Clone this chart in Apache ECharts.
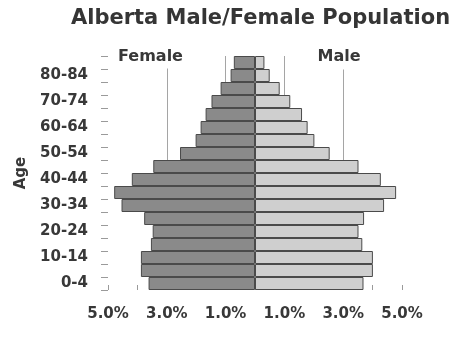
<!DOCTYPE html>
<html>
<head>
<meta charset="utf-8">
<script src="https://cdn.jsdelivr.net/npm/echarts@6/dist/echarts.min.js"></script>
<style>
  html, body { margin: 0; padding: 0; background: #fff; }
  #chart { width: 457px; height: 340px; }
</style>
</head>
<body>
<div id="chart"></div>
<script>
// Age groups, youngest at the bottom of the pyramid
const ageGroups = ['0-4', '5-9', '10-14', '15-19', '20-24', '25-29', '30-34', '35-39', '40-44',
  '45-49', '50-54', '55-59', '60-64', '65-69', '70-74', '75-79', '80-84', '85+'];

// Share of the total population (%) in each age group
const femalePct = [3.62, 3.88, 3.88, 3.54, 3.48, 3.77, 4.54, 4.79, 4.19,
  3.46, 2.55, 2.02, 1.85, 1.68, 1.48, 1.17, 0.83, 0.72];
const malePct = [3.69, 4.01, 4.01, 3.65, 3.52, 3.71, 4.39, 4.80, 4.28,
  3.52, 2.54, 2.02, 1.79, 1.60, 1.20, 0.84, 0.50, 0.32];

// Percentage axis: labelled every 2%, from 5% on the female side to 5% on the male side
const pctMin = -5;
const pctMax = 5;
const pctStep = 2;

const FONT = 'DejaVu Sans';
const TEXT = '#383838';
const TICK = '#9a9a9a';

const chart = echarts.init(document.getElementById('chart'), null, { renderer: 'canvas' });

chart.setOption({
  animation: false,
  backgroundColor: '#fff',
  title: {
    text: 'Alberta Male/Female Population',
    left: 66,
    top: 3,
    textStyle: { fontFamily: FONT, fontWeight: 'bold', fontSize: 21, color: '#353535' }
  },
  grid: { left: 108, right: 55, top: 56, bottom: 50, containLabel: false },
  xAxis: {
    type: 'value',
    min: pctMin,
    max: pctMax,
    interval: pctStep,
    axisLine: { show: false },
    axisTick: { show: true, inside: true, length: 5, lineStyle: { color: TICK } },
    minorTick: { show: true, splitNumber: 2, length: 5, lineStyle: { color: TICK } },
    splitLine: {
      show: true,
      showMinLine: false,
      showMaxLine: false,
      lineStyle: { color: '#a5a5a5', width: 1 }
    },
    axisLabel: {
      margin: 17,
      fontFamily: FONT, fontWeight: 'bold', fontSize: 15, color: TEXT,
      formatter: v => Math.abs(v).toFixed(1) + '%'
    }
  },
  yAxis: {
    type: 'category',
    data: ageGroups,
    name: 'Age',
    nameLocation: 'middle',
    nameRotate: 90,
    nameGap: 79,
    nameTextStyle: { fontFamily: FONT, fontWeight: 'bold', fontSize: 15, color: TEXT },
    // keep the axis at the left edge of the plot, not at 0%
    axisLine: { show: false, onZero: false },
    axisTick: { show: true, interval: 0, length: 7, lineStyle: { color: TICK } },
    axisLabel: {
      interval: 1,
      margin: 20,
      fontFamily: FONT, fontWeight: 'bold', fontSize: 15, color: TEXT
    }
  },
  series: [
    {
      name: 'Female',
      type: 'bar',
      data: femalePct.map(v => -v),
      barGap: '-100%',
      barCategoryGap: 0,
      itemStyle: { color: '#8a8a8a', borderColor: '#4a4a4a', borderWidth: 1 }
    },
    {
      name: 'Male',
      type: 'bar',
      data: malePct,
      barGap: '-100%',
      barCategoryGap: 0,
      itemStyle: { color: '#cfcfcf', borderColor: '#4a4a4a', borderWidth: 1 }
    }
  ],
  graphic: [
    {
      type: 'text', z: 100, x: 150.5, y: 57,
      style: {
        text: 'Female', fill: TEXT, align: 'center', verticalAlign: 'middle',
        font: 'bold 16px "DejaVu Sans"', backgroundColor: '#fff', padding: [3, 3, 4, 3]
      }
    },
    {
      type: 'text', z: 100, x: 339, y: 57,
      style: {
        text: 'Male', fill: TEXT, align: 'center', verticalAlign: 'middle',
        font: 'bold 16px "DejaVu Sans"', backgroundColor: '#fff', padding: [3, 3, 6, 3]
      }
    }
  ]
});
</script>
</body>
</html>
